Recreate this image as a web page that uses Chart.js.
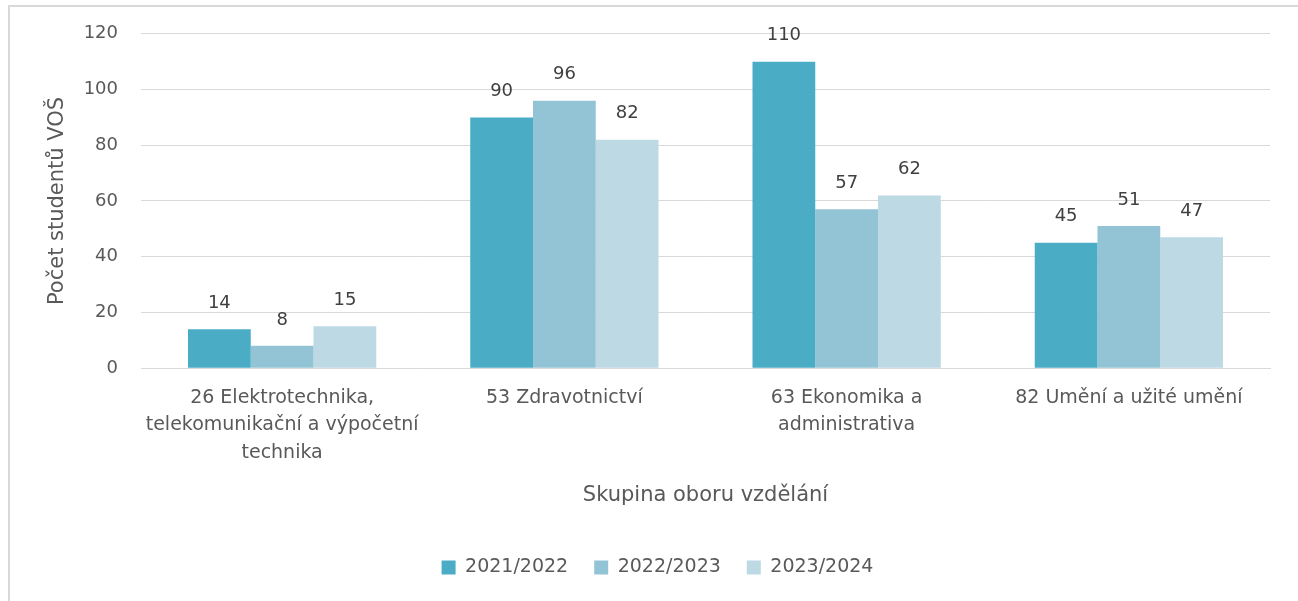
<!DOCTYPE html>
<html>
<head>
<meta charset="utf-8">
<script src="https://cdn.jsdelivr.net/npm/chart.js@4"></script>
<style>
  html, body { margin: 0; padding: 0; background: #fff; overflow: hidden; }
  #frame { position: absolute; left: 8px; top: 5px; width: 1400px; height: 700px;
           border-left: 2px solid #d9d9d9; border-top: 2px solid #d9d9d9; }
  #wrap { position: absolute; left: 0; top: 0; width: 1298px; height: 601px; }
</style>
</head>
<body>
<div id="frame"></div>
<div id="wrap"><canvas id="chart" width="1298" height="601"></canvas></div>
<script>
// Kategorie (skupiny oborů)
const categories = [
    ['26 Elektrotechnika,', 'telekomunikační a výpočetní', 'technika'],
    '53 Zdravotnictví',
    ['63 Ekonomika a', 'administrativa'],
    '82 Umění a užité umění'
];
const years = ['2021/2022', '2022/2023', '2023/2024'];
const values2021 = [14, 90, 110, 45];
const values2022 = [8, 96, 57, 51];
const values2023 = [15, 82, 62, 47];
const yTicks = [0, 20, 40, 60, 80, 100, 120];

const colors = ['#4BACC6', '#93C4D5', '#BCD9E4'];
const textColor = '#595959';
const font = '"DejaVu Sans", sans-serif';

// Popisky hodnot nad sloupci
const valueLabels = {
    id: 'valueLabels',
    afterDatasetsDraw(chart) {
        const ctx = chart.ctx;
        ctx.save();
        ctx.font = '18px ' + font;
        ctx.fillStyle = '#404040';
        ctx.textAlign = 'center';
        ctx.textBaseline = 'middle';
        chart.data.datasets.forEach((ds, i) => {
            chart.getDatasetMeta(i).data.forEach((bar, j) => {
                ctx.fillText(ds.data[j], bar.x, bar.y - 26);
            });
        });
        ctx.restore();
    }
};

new Chart(document.getElementById('chart'), {
    type: 'bar',
    data: {
        labels: categories,
        datasets: [values2021, values2022, values2023].map((d, i) => ({
            label: years[i],
            data: d,
            backgroundColor: colors[i],
            borderWidth: 0,
            barPercentage: 1,
            categoryPercentage: 0.667
        }))
    },
    options: {
        responsive: false,
        animation: false,
        devicePixelRatio: 1,
        layout: { padding: { left: 45, right: 28, top: 28, bottom: 14 } },
        plugins: {
            legend: {
                position: 'bottom',
                labels: {
                    color: textColor,
                    font: { family: font, size: 19 },
                    boxWidth: 14,
                    boxHeight: 14,
                    padding: 26
                }
            },
            tooltip: { enabled: false }
        },
        scales: {
            x: {
                grid: { display: false, drawTicks: false },
                border: { color: '#d9d9d9', width: 1 },
                ticks: { color: textColor, font: { family: font, size: 19, lineHeight: 1.45 }, maxRotation: 0, padding: 16 },
                title: {
                    display: true, text: 'Skupina oboru vzdělání', color: textColor,
                    font: { family: font, size: 21 }, padding: { top: 0, bottom: 24 }
                }
            },
            y: {
                min: 0, max: 120,
                afterBuildTicks(axis) { axis.ticks = yTicks.map(v => ({ value: v })); },
                afterFit(axis) { axis.width = 96; },
                grid: { color: '#d9d9d9', lineWidth: 1, drawTicks: false },
                border: { display: false },
                ticks: { color: textColor, font: { family: font, size: 18 }, padding: 23 },
                title: {
                    display: true, text: 'Počet studentů VOŠ', color: textColor,
                    font: { family: font, size: 21 }, padding: { top: 0, bottom: 0 }
                }
            }
        }
    },
    plugins: [valueLabels]
});
</script>
</body>
</html>
